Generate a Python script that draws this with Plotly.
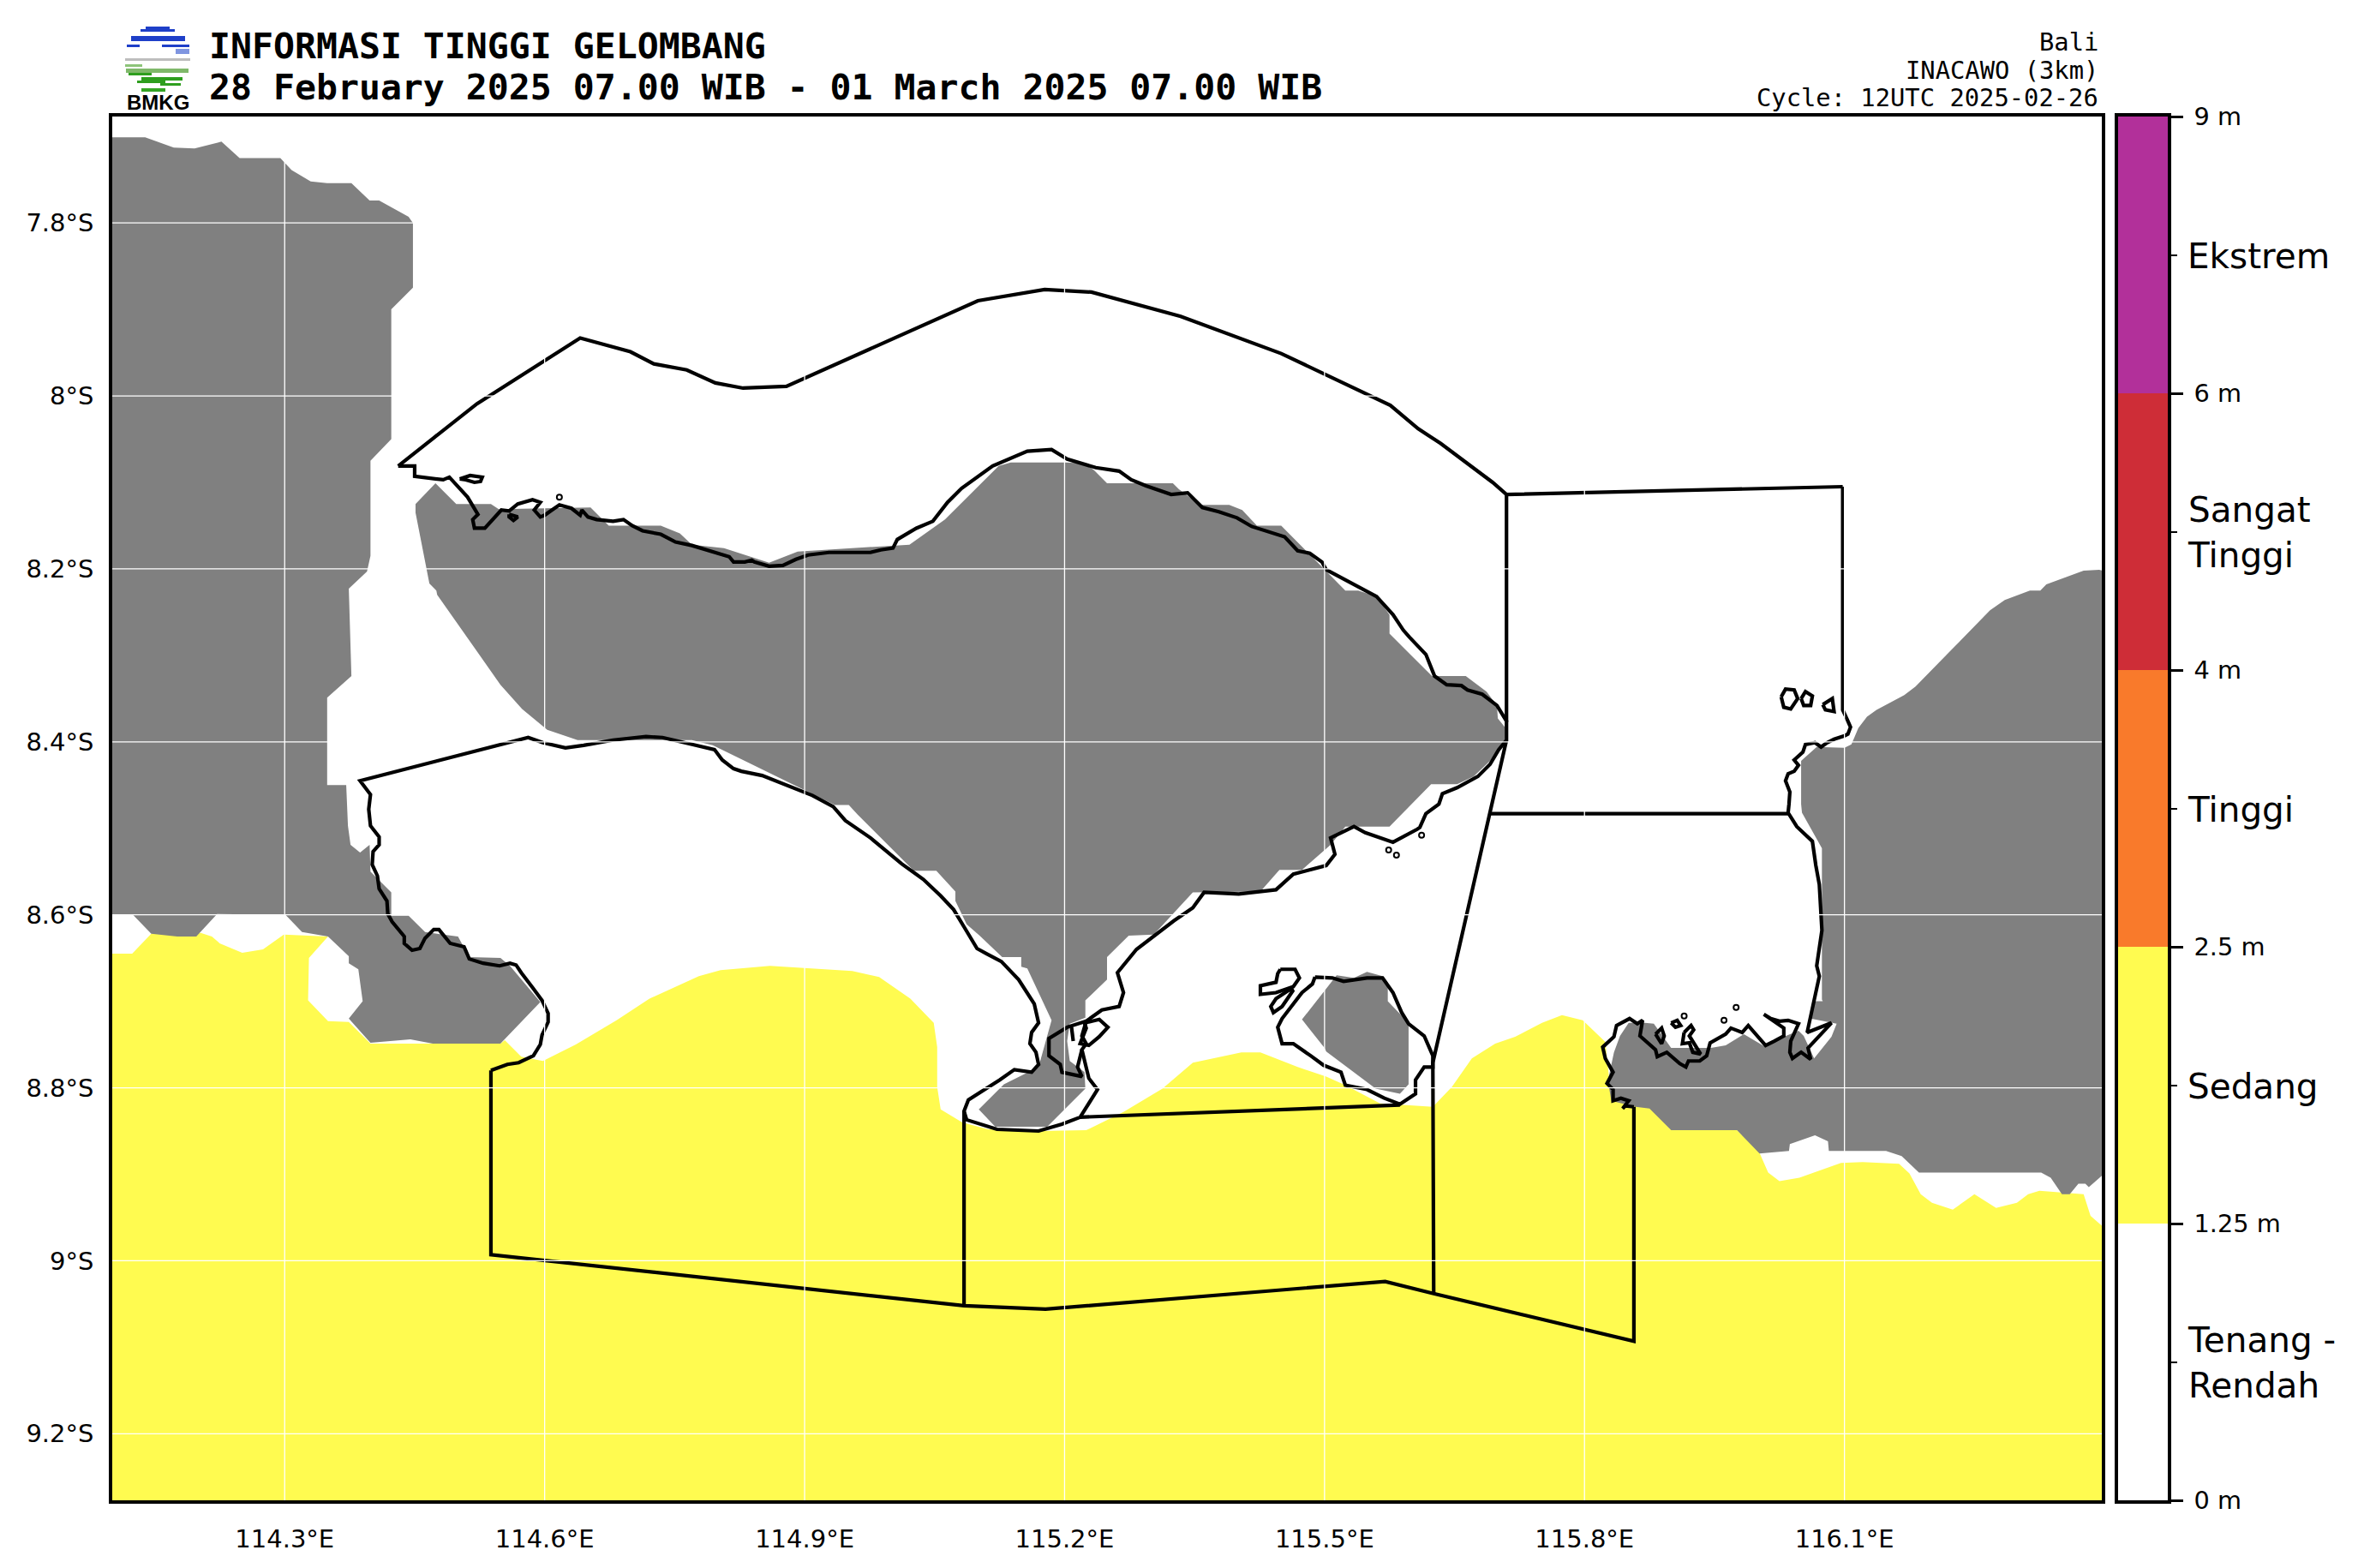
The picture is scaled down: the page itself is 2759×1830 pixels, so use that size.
import plotly.graph_objects as go

# Degrees east / degrees south. y axis is reversed so south grows downward.
lon_ticks = [114.3, 114.6, 114.9, 115.2, 115.5, 115.8, 116.1]
lat_ticks = [7.8, 8.0, 8.2, 8.4, 8.6, 8.8, 9.0, 9.2]
lon_labels = ["114.3°E", "114.6°E", "114.9°E", "115.2°E", "115.5°E", "115.8°E", "116.1°E"]
lat_labels = ["7.8°S", "8°S", "8.2°S", "8.4°S", "8.6°S", "8.8°S", "9°S", "9.2°S"]

# Wave height class 1.25 - 2.5 m
sea_lon = [114.1, 114.124, 114.146, 114.172, 114.178, 114.203, 114.216, 114.225, 114.251, 114.275, 114.299, 114.350, 114.328, 114.327, 114.350, 114.374, 114.399, 114.549, 114.554, 114.573, 114.598, 114.636, 114.683, 114.721, 114.778, 114.803, 114.860, 114.955, 114.986, 115.022, 115.049, 115.053, 115.053, 115.057, 115.082, 115.112, 115.170, 115.225, 115.268, 115.313, 115.348, 115.404, 115.426, 115.469, 115.502, 115.524, 115.564, 115.625, 115.647, 115.670, 115.697, 115.720, 115.751, 115.774, 115.798, 115.824, 115.830, 115.878, 115.899, 115.975, 116.001, 116.012, 116.025, 116.048, 116.096, 116.121, 116.163, 116.175, 116.188, 116.201, 116.225, 116.250, 116.275, 116.299, 116.312, 116.325, 116.376, 116.384, 116.4, 116.4, 114.1]
sea_lat = [8.645, 8.645, 8.622, 8.620, 8.625, 8.621, 8.625, 8.633, 8.644, 8.640, 8.623, 8.625, 8.650, 8.699, 8.723, 8.724, 8.749, 8.749, 8.745, 8.764, 8.769, 8.750, 8.722, 8.697, 8.671, 8.664, 8.659, 8.665, 8.672, 8.697, 8.725, 8.753, 8.799, 8.825, 8.840, 8.848, 8.850, 8.849, 8.828, 8.801, 8.771, 8.759, 8.759, 8.776, 8.787, 8.797, 8.818, 8.822, 8.799, 8.766, 8.749, 8.741, 8.725, 8.716, 8.722, 8.747, 8.804, 8.824, 8.848, 8.848, 8.873, 8.898, 8.908, 8.904, 8.887, 8.886, 8.888, 8.899, 8.923, 8.933, 8.941, 8.923, 8.939, 8.933, 8.923, 8.919, 8.923, 8.948, 8.962, 9.277, 9.277]

# Model land mask
java_lon = [114.1, 114.139, 114.172, 114.196, 114.227, 114.248, 114.295, 114.308, 114.330, 114.349, 114.377, 114.398, 114.409, 114.443, 114.448, 114.448, 114.423, 114.423, 114.399, 114.399, 114.395, 114.374, 114.377, 114.349, 114.349, 114.371, 114.373, 114.376, 114.387, 114.398, 114.399, 114.423, 114.423, 114.443, 114.462, 114.500, 114.513, 114.549, 114.560, 114.595, 114.549, 114.471, 114.445, 114.399, 114.374, 114.390, 114.385, 114.374, 114.374, 114.350, 114.320, 114.301, 114.222, 114.198, 114.176, 114.146, 114.125, 114.1]
java_lat = [7.701, 7.701, 7.713, 7.714, 7.706, 7.725, 7.725, 7.739, 7.752, 7.754, 7.754, 7.774, 7.774, 7.793, 7.800, 7.875, 7.900, 8.050, 8.075, 8.185, 8.203, 8.223, 8.324, 8.349, 8.450, 8.450, 8.497, 8.519, 8.528, 8.519, 8.550, 8.574, 8.601, 8.601, 8.620, 8.625, 8.649, 8.650, 8.659, 8.701, 8.749, 8.749, 8.744, 8.748, 8.720, 8.700, 8.663, 8.656, 8.648, 8.625, 8.620, 8.600, 8.599, 8.625, 8.625, 8.622, 8.600, 8.600]

bali_lon = [114.474, 114.498, 114.538, 114.547, 114.653, 114.674, 114.734, 114.756, 114.770, 114.807, 114.859, 114.892, 115.021, 115.062, 115.124, 115.138, 115.200, 115.224, 115.234, 115.249, 115.325, 115.332, 115.356, 115.390, 115.405, 115.422, 115.450, 115.500, 115.524, 115.539, 115.560, 115.575, 115.575, 115.624, 115.663, 115.687, 115.699, 115.700, 115.708, 115.708, 115.701, 115.691, 115.672, 115.653, 115.623, 115.575, 115.524, 115.507, 115.474, 115.448, 115.426, 115.348, 115.303, 115.274, 115.249, 115.249, 115.224, 115.224, 115.206, 115.203, 115.206, 115.223, 115.224, 115.180, 115.120, 115.101, 115.130, 115.170, 115.185, 115.157, 115.150, 115.150, 115.128, 115.102, 115.087, 115.074, 115.074, 115.052, 115.026, 114.961, 114.951, 114.935, 114.794, 114.770, 114.638, 114.603, 114.574, 114.549, 114.476, 114.475, 114.467, 114.451, 114.451]
bali_lat = [8.101, 8.125, 8.125, 8.131, 8.129, 8.150, 8.150, 8.159, 8.172, 8.176, 8.193, 8.180, 8.172, 8.143, 8.081, 8.077, 8.077, 8.078, 8.086, 8.101, 8.101, 8.108, 8.126, 8.126, 8.132, 8.150, 8.150, 8.200, 8.225, 8.225, 8.232, 8.253, 8.275, 8.324, 8.324, 8.342, 8.358, 8.373, 8.383, 8.398, 8.409, 8.422, 8.440, 8.449, 8.449, 8.498, 8.498, 8.519, 8.548, 8.548, 8.573, 8.574, 8.623, 8.624, 8.649, 8.675, 8.699, 8.719, 8.726, 8.746, 8.769, 8.782, 8.801, 8.845, 8.845, 8.825, 8.796, 8.776, 8.722, 8.662, 8.660, 8.649, 8.649, 8.624, 8.611, 8.584, 8.573, 8.549, 8.549, 8.484, 8.473, 8.473, 8.404, 8.398, 8.398, 8.386, 8.362, 8.334, 8.230, 8.225, 8.217, 8.135, 8.125]

penida_lon = [115.514, 115.474, 115.500, 115.502, 115.559, 115.587, 115.597, 115.597, 115.573, 115.573, 115.567, 115.549, 115.534]
penida_lat = [8.670, 8.721, 8.754, 8.758, 8.801, 8.807, 8.796, 8.725, 8.700, 8.678, 8.671, 8.666, 8.673]

lombok_lon = [116.398, 116.394, 116.376, 116.333, 116.326, 116.314, 116.285, 116.268, 116.226, 116.182, 116.169, 116.137, 116.126, 116.116, 116.111, 116.108, 116.100, 116.068, 116.050, 116.050, 116.051, 116.074, 116.074, 116.075, 116.063, 116.061, 116.091, 116.085, 116.065, 116.053, 116.047, 116.030, 116.009, 115.984, 115.963, 115.946, 115.900, 115.880, 115.870, 115.851, 115.841, 115.834, 115.827, 115.831, 115.859, 115.875, 115.900, 115.976, 116.002, 116.036, 116.037, 116.066, 116.081, 116.082, 116.148, 116.166, 116.186, 116.327, 116.338, 116.351, 116.360, 116.370, 116.378, 116.382, 116.4]
lombok_lat = [8.202, 8.201, 8.202, 8.218, 8.225, 8.225, 8.236, 8.248, 8.291, 8.336, 8.346, 8.363, 8.371, 8.384, 8.396, 8.403, 8.407, 8.406, 8.422, 8.472, 8.482, 8.523, 8.698, 8.700, 8.700, 8.720, 8.726, 8.741, 8.766, 8.740, 8.734, 8.741, 8.753, 8.738, 8.751, 8.754, 8.754, 8.726, 8.725, 8.725, 8.740, 8.759, 8.792, 8.815, 8.822, 8.824, 8.849, 8.849, 8.876, 8.873, 8.865, 8.855, 8.862, 8.873, 8.873, 8.879, 8.898, 8.898, 8.904, 8.923, 8.923, 8.911, 8.911, 8.915, 8.899]

# Province zone borders (open sea edges)
north_lon = [114.431, 114.522, 114.641, 114.699, 114.726, 114.764, 114.797, 114.829, 114.879, 115.016, 115.100, 115.177, 115.231, 115.334, 115.450, 115.576, 115.608, 115.634, 115.694, 115.710, 116.098]
north_lat = [8.081, 8.009, 7.933, 7.949, 7.963, 7.970, 7.985, 7.991, 7.989, 7.927, 7.890, 7.877, 7.880, 7.908, 7.951, 8.011, 8.038, 8.055, 8.100, 8.114, 8.105]
strait_lon = [115.710, 115.710]
strait_lat = [8.114, 8.377]
mid_lon = [115.692, 116.035]
mid_lat = [8.483, 8.483]
diag_lon = [115.710, 115.625, 115.626]
diag_lat = [8.398, 8.771, 9.038]
south_lon = [114.538, 114.538, 115.084, 115.178, 115.570, 115.626, 115.857, 115.857]
south_lat = [8.780, 8.993, 9.052, 9.056, 9.024, 9.038, 9.093, 8.822]
badung_lon = [115.084, 115.084]
badung_lat = [8.827, 9.052]
klungkung_lon = [115.218, 115.587]
klungkung_lat = [8.834, 8.820]

# Coastlines
bali_coast_lon = [114.431, 114.450, 114.450, 114.483, 114.490, 114.504, 114.511, 114.523, 114.517, 114.519, 114.531, 114.550, 114.559, 114.569, 114.586, 114.595, 114.588, 114.595, 114.600, 114.607, 114.617, 114.631, 114.641, 114.643, 114.650, 114.660, 114.679, 114.691, 114.701, 114.713, 114.734, 114.751, 114.770, 114.813, 114.818, 114.831, 114.839, 114.842, 114.859, 114.875, 114.890, 114.904, 114.928, 114.976, 114.988, 115.002, 115.007, 115.029, 115.048, 115.065, 115.081, 115.117, 115.157, 115.185, 115.203, 115.236, 115.263, 115.277, 115.294, 115.323, 115.342, 115.359, 115.378, 115.399, 115.416, 115.454, 115.469, 115.483, 115.497, 115.502, 115.531, 115.560, 115.579, 115.591, 115.598, 115.617, 115.627, 115.641, 115.658, 115.665, 115.682, 115.699, 115.710, 115.710, 115.701, 115.691, 115.677, 115.653, 115.636, 115.632, 115.617, 115.610, 115.607, 115.579, 115.547, 115.534, 115.507, 115.512, 115.502, 115.464, 115.444, 115.401, 115.361, 115.348, 115.326, 115.303, 115.283, 115.261, 115.268, 115.263, 115.243, 115.225, 115.220, 115.225, 115.220, 115.228, 115.238, 115.218, 115.197, 115.170, 115.122, 115.087, 115.084, 115.089, 115.117, 115.125, 115.142, 115.162, 115.170, 115.167, 115.160, 115.162, 115.170, 115.165, 115.147, 115.127, 115.110, 115.099, 115.084, 115.072, 115.057, 115.037, 115.012, 114.996, 114.976, 114.947, 114.933, 114.909, 114.880, 114.851, 114.827, 114.818, 114.805, 114.796, 114.770, 114.736, 114.717, 114.679, 114.645, 114.624, 114.598, 114.581, 114.387, 114.399, 114.397, 114.399, 114.409, 114.409, 114.402, 114.401, 114.407, 114.409, 114.418, 114.419, 114.424, 114.438, 114.438, 114.447, 114.456, 114.462, 114.472, 114.478, 114.491, 114.507, 114.513, 114.529, 114.548, 114.560, 114.567, 114.573, 114.586, 114.597, 114.604, 114.604, 114.597, 114.595, 114.587, 114.570, 114.557, 114.538]
bali_coast_lat = [8.081, 8.081, 8.093, 8.097, 8.094, 8.110, 8.117, 8.137, 8.143, 8.153, 8.153, 8.132, 8.133, 8.125, 8.120, 8.123, 8.132, 8.140, 8.138, 8.133, 8.126, 8.130, 8.138, 8.132, 8.140, 8.143, 8.145, 8.143, 8.150, 8.156, 8.160, 8.169, 8.173, 8.186, 8.192, 8.192, 8.190, 8.192, 8.197, 8.196, 8.189, 8.184, 8.181, 8.181, 8.178, 8.176, 8.166, 8.153, 8.145, 8.123, 8.107, 8.081, 8.064, 8.062, 8.073, 8.083, 8.087, 8.097, 8.104, 8.114, 8.112, 8.129, 8.134, 8.141, 8.151, 8.163, 8.179, 8.182, 8.192, 8.201, 8.217, 8.232, 8.253, 8.271, 8.279, 8.299, 8.324, 8.334, 8.335, 8.340, 8.345, 8.358, 8.376, 8.398, 8.409, 8.426, 8.440, 8.453, 8.460, 8.472, 8.483, 8.499, 8.501, 8.516, 8.505, 8.498, 8.511, 8.530, 8.543, 8.553, 8.571, 8.576, 8.574, 8.592, 8.607, 8.624, 8.640, 8.667, 8.690, 8.706, 8.710, 8.723, 8.740, 8.749, 8.756, 8.789, 8.802, 8.834, 8.842, 8.850, 8.848, 8.837, 8.827, 8.814, 8.797, 8.791, 8.779, 8.782, 8.773, 8.759, 8.749, 8.736, 8.725, 8.703, 8.675, 8.654, 8.645, 8.639, 8.614, 8.594, 8.578, 8.559, 8.541, 8.528, 8.511, 8.491, 8.475, 8.462, 8.450, 8.439, 8.434, 8.431, 8.421, 8.409, 8.403, 8.395, 8.394, 8.398, 8.404, 8.407, 8.401, 8.395, 8.445, 8.461, 8.478, 8.497, 8.510, 8.519, 8.527, 8.542, 8.555, 8.570, 8.584, 8.599, 8.608, 8.625, 8.633, 8.641, 8.639, 8.627, 8.617, 8.617, 8.633, 8.637, 8.651, 8.656, 8.659, 8.656, 8.658, 8.667, 8.684, 8.699, 8.714, 8.724, 8.739, 8.750, 8.763, 8.771, 8.773, 8.780]

lombok_coast_lon = [116.098, 116.098, 116.104, 116.107, 116.104, 116.100, 116.088, 116.080, 116.073, 116.066, 116.055, 116.052, 116.042, 116.047, 116.042, 116.035, 116.032, 116.037, 116.036, 116.035, 116.045, 116.063, 116.067, 116.071, 116.074, 116.068, 116.071, 116.057, 116.085, 116.065, 116.058, 116.061, 116.050, 116.040, 116.037, 116.038, 116.047, 116.035, 116.025, 116.015, 116.007, 116.030, 116.030, 116.019, 116.009, 115.989, 115.982, 115.969, 115.963, 115.945, 115.941, 115.933, 115.920, 115.917, 115.910, 115.895, 115.884, 115.882, 115.864, 115.867, 115.861, 115.852, 115.837, 115.834, 115.821, 115.824, 115.833, 115.826, 115.833, 115.833, 115.842, 115.851, 115.844, 115.847, 115.857]
lombok_coast_lat = [8.105, 8.363, 8.376, 8.383, 8.391, 8.393, 8.397, 8.401, 8.406, 8.401, 8.403, 8.412, 8.421, 8.427, 8.434, 8.437, 8.445, 8.458, 8.472, 8.482, 8.498, 8.515, 8.543, 8.565, 8.618, 8.659, 8.671, 8.736, 8.725, 8.746, 8.754, 8.767, 8.759, 8.766, 8.759, 8.746, 8.726, 8.722, 8.723, 8.720, 8.715, 8.731, 8.740, 8.746, 8.751, 8.728, 8.736, 8.731, 8.738, 8.748, 8.763, 8.769, 8.769, 8.776, 8.772, 8.759, 8.764, 8.756, 8.740, 8.722, 8.726, 8.720, 8.728, 8.741, 8.753, 8.766, 8.782, 8.795, 8.802, 8.815, 8.812, 8.815, 8.824, 8.821, 8.822]

penida_coast_lon = [115.489, 115.509, 115.522, 115.549, 115.567, 115.579, 115.589, 115.597, 115.615, 115.625, 115.625, 115.615, 115.605, 115.605, 115.587, 115.569, 115.549, 115.524, 115.519, 115.499, 115.484, 115.464, 115.451, 115.446, 115.451, 115.459, 115.474, 115.486, 115.489]
penida_coast_lat = [8.672, 8.673, 8.677, 8.673, 8.673, 8.690, 8.713, 8.726, 8.740, 8.763, 8.776, 8.776, 8.791, 8.807, 8.819, 8.812, 8.802, 8.797, 8.782, 8.774, 8.763, 8.749, 8.749, 8.730, 8.720, 8.710, 8.690, 8.680, 8.672]
lembongan_lon = [115.449, 115.466, 115.471, 115.464, 115.444, 115.426, 115.426, 115.444, 115.446, 115.449]
lembongan_lat = [8.663, 8.663, 8.673, 8.683, 8.690, 8.692, 8.682, 8.678, 8.668, 8.663]
ceningan_lon = [115.459, 115.464, 115.451, 115.441, 115.438, 115.444, 115.459]
ceningan_lat = [8.687, 8.687, 8.706, 8.713, 8.706, 8.697, 8.687]
benoa_lon = [115.225, 115.203, 115.182, 115.182, 115.195, 115.197, 115.220, 115.215, 115.220]
benoa_lat = [8.723, 8.730, 8.743, 8.763, 8.773, 8.782, 8.787, 8.776, 8.756]
serangan_lon = [115.223, 115.240, 115.250, 115.240, 115.228, 115.218, 115.225, 115.223]
serangan_lat = [8.725, 8.721, 8.730, 8.741, 8.751, 8.749, 8.731, 8.725]
mangrove_lon = [115.208, 115.210]
mangrove_lat = [8.730, 8.746]
menjangan_lon = [114.502, 114.514, 114.528, 114.526, 114.519, 114.509, 114.502]
menjangan_lat = [8.096, 8.092, 8.094, 8.099, 8.100, 8.097, 8.096]
gilimanuk_lon = [114.559, 114.569, 114.564, 114.559, 114.559]
gilimanuk_lat = [8.137, 8.140, 8.144, 8.140, 8.137]
gili1_lon = [116.027, 116.032, 116.042, 116.046, 116.038, 116.030, 116.027]
gili1_lat = [8.348, 8.339, 8.340, 8.350, 8.362, 8.360, 8.348]
gili2_lon = [116.050, 116.055, 116.063, 116.061, 116.053, 116.050]
gili2_lat = [8.350, 8.342, 8.347, 8.358, 8.358, 8.350]
gili3_lon = [116.075, 116.086, 116.088, 116.078, 116.075]
gili3_lat = [8.357, 8.350, 8.365, 8.363, 8.357]
sekotong1_lon = [115.882, 115.889, 115.892, 115.889, 115.882]
sekotong1_lat = [8.738, 8.731, 8.740, 8.749, 8.738]
sekotong2_lon = [115.900, 115.907, 115.911, 115.905, 115.900]
sekotong2_lat = [8.725, 8.722, 8.728, 8.730, 8.725]
sekotong3_lon = [115.915, 115.923, 115.926, 115.921, 115.934, 115.925, 115.921, 115.913, 115.915]
sekotong3_lat = [8.736, 8.728, 8.733, 8.740, 8.761, 8.759, 8.748, 8.749, 8.736]
islet_lon = [114.617, 115.915, 115.975, 115.961, 115.574, 115.583, 115.612]
islet_lat = [8.117, 8.717, 8.707, 8.722, 8.525, 8.531, 8.508]

# Colour bar classes, bottom to top
class_colors = ["#ffffff", "#fffb50", "#f97a2b", "#ce2d37", "#b2309a"]
class_names = ["Tenang -<br>Rendah", "Sedang", "Tinggi", "Sangat<br>Tinggi", "Ekstrem"]
bound_labels = ["0 m", "1.25 m", "2.5 m", "4 m", "6 m", "9 m"]

W, H = 2759, 1830
SANS = "DejaVu Sans"
MONO = "DejaVu Sans Mono"


def px(x):
    return x / W


def py(y):
    return 1 - y / H


land = [(java_lon, java_lat), (bali_lon, bali_lat), (penida_lon, penida_lat), (lombok_lon, lombok_lat)]
outlines = [
    (north_lon, north_lat), (strait_lon, strait_lat), (mid_lon, mid_lat), (diag_lon, diag_lat),
    (south_lon, south_lat), (badung_lon, badung_lat), (klungkung_lon, klungkung_lat),
    (bali_coast_lon, bali_coast_lat), (lombok_coast_lon, lombok_coast_lat),
    (penida_coast_lon, penida_coast_lat), (lembongan_lon, lembongan_lat), (ceningan_lon, ceningan_lat),
    (benoa_lon, benoa_lat), (serangan_lon, serangan_lat), (mangrove_lon, mangrove_lat),
    (menjangan_lon, menjangan_lat), (gilimanuk_lon, gilimanuk_lat),
    (gili1_lon, gili1_lat), (gili2_lon, gili2_lat), (gili3_lon, gili3_lat),
    (sekotong1_lon, sekotong1_lat), (sekotong2_lon, sekotong2_lat), (sekotong3_lon, sekotong3_lat),
]

fig = go.Figure()

fig.add_trace(go.Scatter(x=sea_lon, y=sea_lat, mode="lines", fill="toself", fillcolor="#fffb50", line=dict(width=0)))
for lon, lat in land:
    fig.add_trace(go.Scatter(x=lon, y=lat, mode="lines", fill="toself", fillcolor="#808080", line=dict(width=0)))
for lon, lat in outlines:
    fig.add_trace(go.Scatter(x=lon, y=lat, mode="lines", line=dict(color="black", width=4.2)))
fig.add_trace(go.Scatter(x=islet_lon, y=islet_lat, mode="markers",
                         marker=dict(size=6, color="white", line=dict(color="black", width=2))))

# Colour bar as stacked bars on its own axes
for i, c in enumerate(class_colors):
    fig.add_trace(go.Bar(x=[0], y=[1], base=[i], width=1, marker=dict(color=c, line=dict(width=0)),
                         xaxis="x2", yaxis="y2"))

# Gridlines sit on top of the land and the coast in the reference
for t in lon_ticks:
    fig.add_shape(type="line", x0=t, x1=t, y0=0, y1=1, xref="x", yref="y domain", layer="above",
                  line=dict(color="white", width=1.3))
for t in lat_ticks:
    fig.add_shape(type="line", y0=t, y1=t, x0=0, x1=1, yref="y", xref="x domain", layer="above",
                  line=dict(color="white", width=1.3))

# BMKG logo: (left, top, right, bottom, colour) in page pixels
logo_bars = [
    (170, 31, 198, 34, "#1e3fc8"), (164, 34, 204, 37, "#1e3fc8"), (153, 42, 216, 48, "#1e3fc8"),
    (148, 52, 163, 55, "#1e3fc8"), (189, 52, 221, 55, "#1e3fc8"), (205, 57, 221, 63, "#7f95e0"),
    (146, 68, 222, 71, "#bdbdbd"),
    (146, 75, 166, 78, "#8dc47a"), (147, 80, 220, 85, "#7fb86a"), (150, 85, 177, 88, "#2e9e1e"),
    (165, 90, 213, 94, "#2e9e1e"), (160, 94, 193, 97, "#2e9e1e"), (187, 97, 211, 100, "#2e9e1e"),
    (165, 103, 193, 107, "#35a524"),
]
for x0, y0, x1, y1, c in logo_bars:
    fig.add_shape(type="rect", xref="paper", yref="paper", x0=px(x0), x1=px(x1), y0=py(y1), y1=py(y0),
                  fillcolor=c, line=dict(width=0))

texts = [
    ("BMKG", 184, 120, "center", "Liberation Sans", 24, True),
    ("INFORMASI TINGGI GELOMBANG", 242, 53, "left", MONO, 41.5, True),
    ("28 February 2025 07.00 WIB - 01 March 2025 07.00 WIB", 242, 102, "left", MONO, 41.5, True),
    ("Bali", 2451, 49, "right", MONO, 28.8, False),
    ("INACAWO (3km)", 2451, 82, "right", MONO, 28.8, False),
    ("Cycle: 12UTC 2025-02-26", 2451, 114, "right", MONO, 28.8, False),
]
for s, x, y, anchor, fam, size, bold in texts:
    fig.add_annotation(text=f"<b>{s}</b>" if bold else s, x=px(x), y=py(y), xref="paper", yref="paper",
                       xanchor=anchor, yanchor="middle", showarrow=False,
                       font=dict(family=fam, size=size, color="black"))

for i, name in enumerate(class_names):
    fig.add_annotation(text=name, x=px(2551), y=i + 0.5, xref="paper", yref="y2", xanchor="left", yanchor="middle",
                       yshift=-1, align="left", showarrow=False, font=dict(family=SANS, size=40.5, color="black"))

fig.update_layout(
    width=W, height=H, margin=dict(l=0, r=0, t=0, b=0), autosize=False,
    paper_bgcolor="white", plot_bgcolor="white", showlegend=False, hovermode=False, barmode="overlay",
    font=dict(family=SANS, size=29, color="black"),
    xaxis=dict(domain=[px(131), px(2453)], range=[114.101, 116.397], tickmode="array", automargin=False,
               tickvals=lon_ticks, ticktext=lon_labels, showgrid=False, zeroline=False,
               showline=True, mirror=True, linecolor="black", linewidth=3.5, ticks="", ticklabelstandoff=16,
               tickfont=dict(family=SANS, size=29)),
    yaxis=dict(domain=[py(1751), py(136)], range=[9.277, 7.677], tickmode="array", automargin=False,
               tickvals=lat_ticks, ticktext=lat_labels, showgrid=False, zeroline=False,
               showline=True, mirror=True, linecolor="black", linewidth=3.5, ticks="", ticklabelstandoff=12,
               tickfont=dict(family=SANS, size=29)),
    xaxis2=dict(domain=[px(2472), px(2530)], anchor="y2", range=[-0.5, 0.5], showticklabels=False, automargin=False,
                showgrid=False, zeroline=False, showline=True, mirror=True, linecolor="black", linewidth=3.5, ticks=""),
    yaxis2=dict(domain=[py(1751), py(136)], anchor="x2", side="right", range=[0, 5], tickmode="array", automargin=False,
                tickvals=list(range(6)), ticktext=bound_labels, showgrid=False, zeroline=False,
                showline=True, mirror=True, linecolor="black", linewidth=3.5,
                ticks="outside", ticklen=14, tickwidth=3, tickcolor="black", ticklabelstandoff=7,
                tickfont=dict(family=SANS, size=28.8),
                minor=dict(tickmode="array", tickvals=[0.5, 1.5, 2.5, 3.5, 4.5], ticks="outside", ticklen=7,
                           tickwidth=2, tickcolor="black")),
)

fig.write_html("out.html", config={"displayModeBar": False}, post_script="document.body.style.margin='0';")
